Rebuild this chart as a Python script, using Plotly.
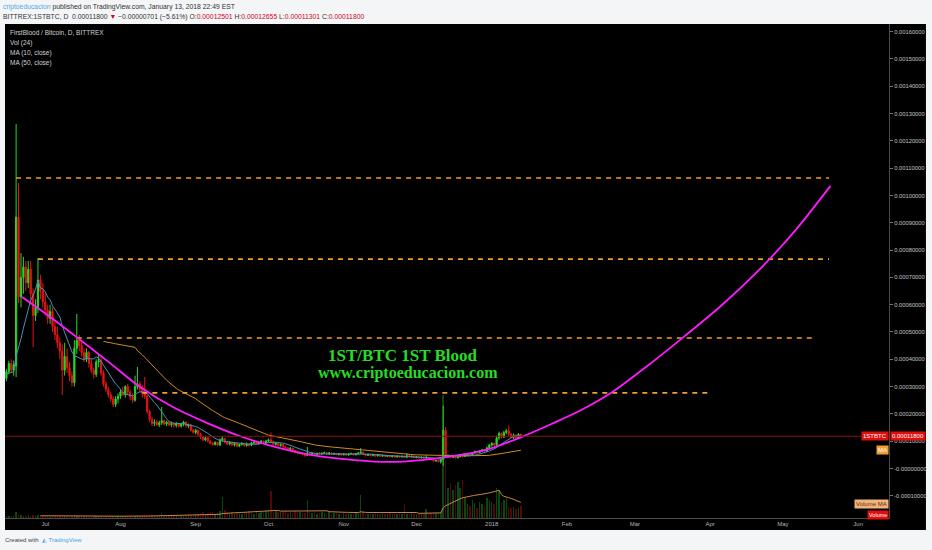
import plotly.graph_objects as go
import pandas as pd

# ---------------- data (prices in 1e-6 BTC, volume in thousand 1ST) ----------------
start_date = "2017-06-06"

open_u = [340,345,350,340,355,350,345,350,340,330,355,385,360,375,921,629,700,738,680,730,
          640,560,590,690,650,610,580,550,575,520,490,460,430,360,410,370,340,315,440,470,
          450,425,400,425,385,360,345,390,395,350,310,290,270,255,235,255,265,280,270,300,
          280,262,250,300,310,290,275,265,210,180,165,170,160,168,175,163,170,160,165,158,
          164,155,162,170,156,160,140,132,140,125,115,105,112,100,92,88,96,86,105,110,
          96,90,95,86,92,82,88,92,84,90,85,94,96,90,97,100,94,101,105,98,
          88,92,84,88,80,76,70,74,66,60,56,58,52,48,56,52,55,51,56,53,
          56,58,53,57,52,55,51,54,50,53,49,53,55,50,54,57,60,52,48,51,
          47,50,46,49,45,48,44,47,43,46,42,45,42,45,41,47,43,45,40,43,
          39,42,38,41,36,32,28,30,25,33,140,45,48,41,45,39,43,47,44,50,
          54,50,57,62,58,65,68,63,76,86,92,86,112,128,115,132,138,125,114,122,
          112,125.01]
high_u = [360,370,365,360,375,365,360,370,360,365,395,400,395,1262,1046,789,775,760,760,760,
          660,620,771,710,680,640,600,600,590,545,520,480,455,460,440,390,355,470,566,490,
          465,440,440,430,400,370,400,420,410,360,320,300,280,265,265,275,290,300,305,310,
          290,275,340,372,320,305,335,270,215,190,180,178,175,225,180,175,174,172,170,170,
          168,168,175,172,165,163,145,145,142,130,120,118,115,105,98,100,98,110,118,112,
          100,100,98,96,95,92,96,94,95,92,98,100,98,100,104,102,104,110,132,102,
          96,94,92,90,84,78,78,76,68,64,62,60,55,79,58,58,57,58,60,58,
          62,60,60,59,58,57,56,56,56,55,55,58,56,56,60,75,62,54,54,53,
          52,52,52,51,50,50,50,49,49,48,48,47,47,47,56,49,47,46,45,45,
          44,44,48,42,38,34,32,32,35,230,152,52,50,48,47,46,50,49,52,57,
          56,60,66,64,68,72,70,80,90,96,95,120,135,132,138,145,158,130,128,125,
          130,126.55]
low_u = [320,330,335,325,340,330,330,335,325,320,345,350,340,335,605,590,640,650,660,600,
         445,540,570,620,590,560,530,530,500,470,440,400,269,340,350,320,300,300,420,430,
         410,390,390,370,350,330,335,370,340,300,280,260,245,225,225,240,255,265,260,270,
         250,240,245,290,280,260,255,200,170,155,155,155,152,160,158,155,155,152,150,150,
         150,150,155,150,148,135,128,125,120,108,100,100,95,88,84,84,82,82,98,92,
         85,85,82,80,78,78,84,80,80,80,82,88,86,88,92,90,90,96,92,84,
         84,80,80,76,72,66,66,62,56,52,52,48,44,46,48,50,49,49,50,50,
         53,51,50,50,50,49,48,47,48,47,47,50,48,48,51,54,50,45,46,45,
         45,44,44,43,43,42,42,41,41,40,40,40,40,39,39,41,40,38,38,37,
         37,36,36,34,30,26,24,22,18,10,38,40,38,38,36,37,41,40,42,47,
         47,48,54,55,56,60,60,60,72,80,82,84,105,110,112,125,120,110,108,108,
         108,113.01]
close_u = [345,350,340,355,350,345,350,340,330,355,385,360,380,921,629,700,738,680,730,640,
           560,590,690,650,610,580,550,575,520,490,460,430,360,410,370,340,315,440,470,450,
           425,400,425,385,360,345,390,395,350,310,290,270,255,235,255,265,280,270,300,280,
           262,250,300,310,290,275,265,210,180,165,170,160,168,175,163,170,160,165,158,164,
           155,162,170,156,160,140,132,140,125,115,105,112,100,92,88,96,86,105,110,96,
           90,95,86,92,82,88,92,84,90,85,94,96,90,97,100,94,101,105,98,88,
           92,84,88,80,76,70,74,66,60,56,58,52,48,56,52,55,51,56,53,56,
           58,53,57,52,55,51,54,50,53,49,53,55,50,54,57,60,52,48,51,47,
           50,46,49,45,48,44,47,43,46,42,45,42,45,41,47,43,45,40,43,39,
           42,38,41,36,32,28,30,25,33,140,45,48,41,45,39,43,47,44,50,54,
           50,57,62,58,65,68,63,76,86,92,86,112,128,115,132,138,125,114,122,112,
           125,118.0]
volume_k = [40,35,45,30,50,40,35,45,38,42,55,40,48,
            160,
            90,70,60,55,65,50,75,45,80,55,50,
            40,45,35,50,42,38,55,70,48,40,36,44,75,50,42,38,46,40,35,44,38,52,45,40,36,48,55,42,40,50,46,38,
            44,50,60,42,48,55,70,45,52,66,58,64,72,60,55,60,115,62,50,58,55,48,60,70,52,58,64,75,80,70,
            90,110,130,150,100,120,140,160,110,130,180,520,200,140,120,160,110,130,150,100,140,120,180,130,110,150,120,140,160,180,
            200,680,220,180,150,140,160,190,130,150,120,170,140,160,120,130,450,160,120,140,110,130,150,120,100,140,110,120,130,100,110,
            120,100,130,110,90,140,120,580,150,100,90,110,100,120,90,100,130,110,90,120,100,110,90,130,100,350,110,90,120,100,
            110,90,120,100,225,110,130,150,120,140,160,
            3075,1450,750,875,700,825,900,750,950,
            500,350,300,450,375,250,400,350,300,500,450,
            400,350,750,700,400,
            450,500,300,250,280,220,260,300]

# hand-drawn curve (arc drawing) : dates and values (1e-6 BTC)
curve_dates = ["2017-06-21 10:00", "2017-07-03 01:00", "2017-07-15 10:00", "2017-07-27 17:00",
               "2017-08-09 00:00", "2017-08-22 14:00", "2017-09-05 14:00", "2017-09-19 02:00",
               "2017-10-02 12:00", "2017-10-18 22:00", "2017-11-05 14:00", "2017-11-19 14:00",
               "2017-12-03 02:00", "2017-12-16 17:00", "2017-12-30 17:00", "2018-01-13 05:00",
               "2018-01-25 14:00", "2018-02-06 22:00", "2018-02-19 05:00", "2018-03-05 14:00",
               "2018-03-20 00:00", "2018-04-05 10:00", "2018-04-21 22:00", "2018-05-06 07:00",
               "2018-05-20 14:00"]
curve_u = [628, 555, 471, 386, 299, 225, 167, 119, 82, 49, 31, 24, 31, 46, 71, 115,
           163, 214, 277, 372, 474, 595, 734, 874, 1035]

# horizontal resistance levels (1e-6 BTC)
level_u = [1064, 767, 478, 277]
level_start = ["2017-06-19", "2017-06-28", "2017-07-14", "2017-08-10"]
level_end = ["2018-05-20", "2018-05-20", "2018-05-14", "2018-04-01"]

last_price = 0.00011800

y_tick_labels = ["0.00160000", "0.00150000", "0.00140000", "0.00130000", "0.00120000",
                 "0.00110000", "0.00100000", "0.00090000", "0.00080000", "0.00070000",
                 "0.00060000", "0.00050000", "0.00040000", "0.00030000", "0.00020000",
                 "0.00010000", "-0.00000000", "-0.00010000"]
x_tick_dates = ["2017-07-01", "2017-08-01", "2017-09-01", "2017-10-01", "2017-11-01",
                "2017-12-01", "2018-01-01", "2018-02-01", "2018-03-01", "2018-04-01",
                "2018-05-01", "2018-06-01"]
x_tick_labels = ["Jul", "Aug", "Sep", "Oct", "Nov", "Dec", "2018", "Feb", "Mar", "Apr", "May", "Jun"]

# ---------------- derived ----------------
U = 1e-6
dates = pd.date_range(start_date, periods=len(close_u), freq="D")
o = [v * U for v in open_u]
h = [v * U for v in high_u]
l = [v * U for v in low_u]
c = [v * U for v in close_u]
ma10 = pd.Series(c).rolling(10).mean()
ma50 = pd.Series(c).rolling(50).mean()
vma = pd.Series(volume_k, dtype=float).rolling(24).mean()

GREEN = "#27d827"
RED = "#e81414"
vol_colors = ["rgba(30,190,30,0.38)" if cc >= oo else "rgba(215,20,20,0.38)" for oo, cc in zip(o, c)]

FONT = "Liberation Sans"
fig = go.Figure()

fig.add_trace(go.Bar(x=dates, y=volume_k, marker=dict(color=vol_colors, line=dict(width=0)),
                     width=86400000 * 0.6, yaxis="y2", hoverinfo="skip"))
fig.add_trace(go.Scatter(x=dates, y=vma, mode="lines", yaxis="y2",
                         line=dict(color="#c9834a", width=1), hoverinfo="skip"))
fig.add_trace(go.Candlestick(x=dates, open=o, high=h, low=l, close=c, whiskerwidth=0,
                             increasing=dict(line=dict(color=GREEN, width=1), fillcolor=GREEN),
                             decreasing=dict(line=dict(color=RED, width=1), fillcolor=RED)))
fig.add_trace(go.Scatter(x=dates, y=ma50, mode="lines", line=dict(color="#d08a1e", width=1)))
fig.add_trace(go.Scatter(x=dates, y=ma10, mode="lines", line=dict(color="#4d8fb5", width=1)))

for lv, s, e in zip(level_u, level_start, level_end):
    fig.add_trace(go.Scatter(x=[s, e], y=[lv * U, lv * U], mode="lines",
                             line=dict(color="#f0a030", width=1.6, dash="5px,5px")))

fig.add_trace(go.Scatter(x=curve_dates, y=[v * U for v in curve_u], mode="lines",
                         line=dict(color="#ff1aff", width=1.8, shape="spline", smoothing=0.8)))

shapes = [
    dict(type="rect", xref="paper", yref="paper", x0=0, x1=1.0418, y0=-0.0243, y1=1.0,
         fillcolor="#000000", line=dict(width=0), layer="below"),
    dict(type="line", xref="paper", yref="y", x0=0, x1=1, y0=last_price, y1=last_price,
         line=dict(color="#8c1414", width=1)),
]

annotations = [
    dict(xref="paper", yref="paper", x=-0.0045, y=1.0344, xanchor="left", yanchor="middle", showarrow=False,
         text="<span style='color:#5aa8df'>criptoeducacion</span> published on TradingView.com, January 13, 2018 22:49 EST",
         font=dict(family=FONT, size=6.8, color="#333333")),
    dict(xref="paper", yref="paper", x=-0.0045, y=1.0142, xanchor="left", yanchor="middle", showarrow=False,
         text=("BITTREX:1STBTC, D  0.00011800 <span style='color:#d0021b'>▼</span> −0.00000701 (−5.61%) "
               "O:<span style='color:#d0021b'>0.00012501</span> H:<span style='color:#d0021b'>0.00012655</span> "
               "L:<span style='color:#d0021b'>0.00011301</span> C:<span style='color:#d0021b'>0.00011800</span>"),
         font=dict(family=FONT, size=6.8, color="#333333")),
    dict(xref="paper", yref="paper", x=-0.0023, y=-0.0445, xanchor="left", yanchor="middle", showarrow=False,
         text="Created with  <span style='color:#4aa3df'>◭ TradingView</span>",
         font=dict(family=FONT, size=6, color="#444444")),
]
legend_lines = ["FirstBlood / Bitcoin, D, BITTREX", "Vol (24)", "MA (10, close)", "MA (50, close)"]
for i, t in enumerate(legend_lines):
    annotations.append(dict(xref="paper", yref="paper", x=0.0034, y=0.9818 - i * 0.0202,
                            xanchor="left", yanchor="middle", showarrow=False, text=t,
                            font=dict(family=FONT, size=6.5, color="#d0d0d0")))

annotations += [
    dict(xref="x", yref="y", x="2017-11-25 14:00", y=0.000414, showarrow=False,
         text="<b>1ST/BTC 1ST Blood</b>", font=dict(family="Liberation Serif", size=17, color="#25dd25")),
    dict(xref="x", yref="y", x="2017-11-27 10:00", y=0.000349, showarrow=False,
         text="<b>www.criptoeducacion.com</b>", font=dict(family="Liberation Serif", size=16, color="#25dd25")),
    dict(xref="paper", yref="y", x=1.0, y=last_price, xanchor="right", yanchor="middle", showarrow=False,
         text="1STBTC", bgcolor="#e00d0d", borderpad=1, font=dict(family=FONT, size=6, color="#ffffff")),
    dict(xref="paper", yref="y", x=1.0, y=last_price, xanchor="left", yanchor="middle", showarrow=False,
         xshift=1, text="0.00011800", bgcolor="#e00d0d", borderpad=1, font=dict(family=FONT, size=6, color="#ffffff")),
    dict(xref="paper", yref="y", x=1.0, y=float(ma50.iloc[-1]), xanchor="right", yanchor="middle", showarrow=False,
         text="MA", bgcolor="#f0a030", borderpad=1, font=dict(family=FONT, size=6, color="#ffffff")),
    dict(xref="paper", yref="y2", x=1.0, y=float(vma.iloc[-1]), xanchor="right", yanchor="middle", showarrow=False,
         yshift=-2, text="Volume MA", bgcolor="#f2b27c", borderpad=1, font=dict(family=FONT, size=6, color="#5a3010")),
    dict(xref="paper", yref="paper", x=1.0, y=0.006, xanchor="right", yanchor="middle", showarrow=False,
         text="Volume", bgcolor="#e00d0d", borderpad=1, font=dict(family=FONT, size=5.5, color="#ffffff")),
]

fig.update_layout(
    width=932, height=550, margin=dict(l=5, r=41, t=24, b=32),
    paper_bgcolor="#f3f5f7", plot_bgcolor="#000000", showlegend=False,
    shapes=shapes, annotations=annotations, bargap=0,
    xaxis=dict(type="date", range=["2017-06-14 10:00", "2018-06-13 17:00"],
               tickvals=x_tick_dates, ticktext=x_tick_labels,
               tickfont=dict(family=FONT, size=6, color="#b4b4b4"),
               showgrid=False, zeroline=False, showline=True, linecolor="#4a4a4a", linewidth=1,
               ticks="", rangeslider=dict(visible=False)),
    yaxis=dict(side="right", range=[-0.0001813, 0.001628],
               tickvals=[float(t) for t in y_tick_labels], ticktext=y_tick_labels,
               tickfont=dict(family=FONT, size=5.8, color="#c4c4c4"),
               showgrid=False, zeroline=False, showline=True, linecolor="#4a4a4a", linewidth=1,
               ticks="outside", ticklen=3, tickcolor="#777777"),
    yaxis2=dict(overlaying="y", range=[0, 12350], visible=False),
)

fig.write_html("out.html", config={"displayModeBar": False},
               post_script="document.body.style.margin='0';document.body.style.overflow='hidden';")
